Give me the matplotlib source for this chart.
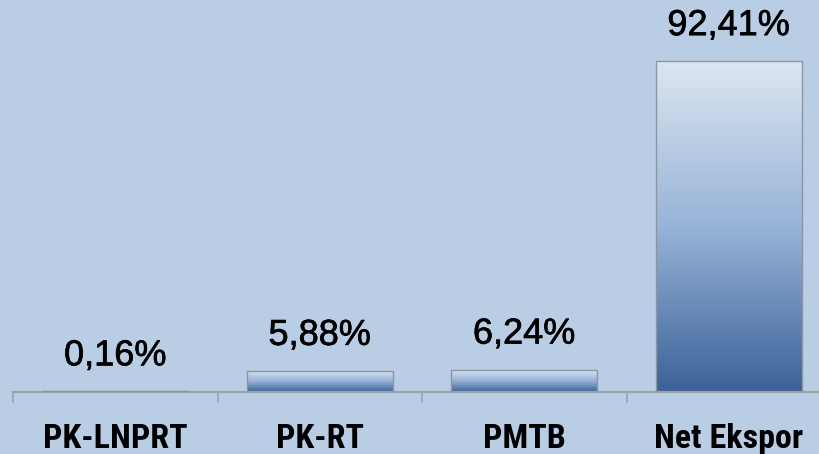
import matplotlib
matplotlib.use("Agg")
import matplotlib.pyplot as plt
import numpy as np
from matplotlib import font_manager as fm
from matplotlib.colors import LinearSegmentedColormap
from matplotlib.transforms import blended_transform_factory
import matplotlib.patheffects as pe

categories = ["PK-LNPRT", "PK-RT", "PMTB", "Net Ekspor"]
values = [0.16, 5.88, 6.24, 92.41]
value_labels = ["0,16%", "5,88%", "6,24%", "92,41%"]

names = {f.name for f in fm.fontManager.ttflist}
cond_font = None
for cand in ["Liberation Sans Narrow", "DejaVu Sans Condensed", "Roboto Condensed"]:
    if cand in names:
        cond_font = cand
        break

W, H, DPI = 819, 454, 100
fig = plt.figure(figsize=(W / DPI, H / DPI), dpi=DPI)
bg = "#B9CDE5"
fig.patch.set_facecolor(bg)

x0 = 13 / W
cat_w = 204.5 / W
ax_bottom = 1 - 392 / H
ax = fig.add_axes([x0, ax_bottom, cat_w * 4, 392 / H])
ax.set_facecolor(bg)

cmap = LinearSegmentedColormap.from_list("g", ["#3B6298", "#97B3D7", "#DCE6F1"])
grad = np.linspace(0, 1, 256).reshape(-1, 1)
bw = 0.715
bars = ax.bar(range(len(values)), values, width=bw, color="none",
              edgecolor="#8A96A6", linewidth=1.0, zorder=3)
for b in bars:
    x, y = b.get_x(), b.get_y()
    w, h = b.get_width(), b.get_height()
    im = ax.imshow(grad, cmap=cmap, aspect="auto", origin="lower",
                   extent=[x, x + w, y, y + h], zorder=2, interpolation="bilinear")
    im.set_clip_path(b)
ax.set_xlim(-0.5, 3.5)
ax.set_ylim(0, 392 / 3.58)

for i, (v, lab) in enumerate(zip(values, value_labels)):
    ax.annotate(lab, (i, v), xytext=(0, 13), textcoords="offset points",
                ha="center", va="bottom", fontsize=26, family="Liberation Sans",
                color="black",
                path_effects=[pe.withStroke(linewidth=0.5, foreground="black")])

for s in ["top", "right", "left"]:
    ax.spines[s].set_visible(False)
ax.spines["bottom"].set_color("#9DA3AA")
ax.spines["bottom"].set_linewidth(1.6)
ax.set_yticks([])
ax.set_xticks([-0.5, 0.5, 1.5, 2.5, 3.5])
ax.set_xticklabels([])
ax.tick_params(axis="x", direction="out", length=8, width=1.2, color="#9DA3AA")

trans = blended_transform_factory(ax.transData, fig.transFigure)
kw = dict(ha="center", va="baseline", fontsize=24.5, fontweight="bold", color="black")
kw["family"] = cond_font if cond_font else "Roboto"
for i, c in enumerate(categories):
    ax.text(i, 1 - 448 / H, c, transform=trans, clip_on=False, **kw)

fig.savefig("out.png", dpi=DPI, facecolor=bg)
